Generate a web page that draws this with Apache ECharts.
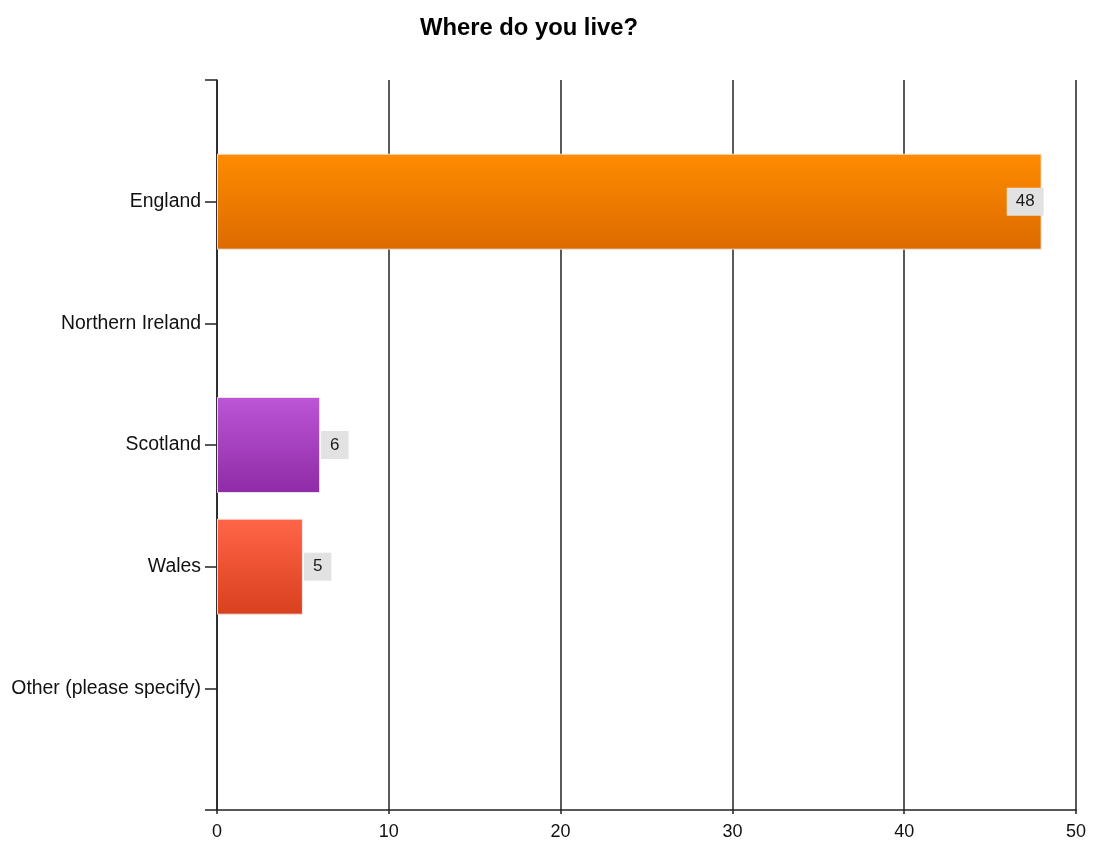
<!DOCTYPE html>
<html>
<head>
<meta charset="utf-8">
<script src="https://cdn.jsdelivr.net/npm/echarts@6/dist/echarts.min.js"></script>
<style>
  html, body { margin: 0; padding: 0; background: #ffffff; }
  #chart { width: 1093px; height: 843px; }
</style>
</head>
<body>
<div id="chart"></div>
<script>
// Survey answers: where respondents live
const titleText = 'Where do you live?';
const categories = ['England', 'Northern Ireland', 'Scotland', 'Wales', 'Other (please specify)'];
const counts = [48, 0, 6, 5, 0];
const xTicks = [0, 10, 20, 30, 40, 50];

// Gradient per answer (top colour, bottom colour)
const barColors = {
  'England': ['#ff8c00', '#dc6a00'],
  'Scotland': ['#bc55d6', '#8f2ba6'],
  'Wales': ['#ff6547', '#d9401e']
};

// Empty slots at both ends so each answer sits on a tick line
const yCategories = [''].concat(categories, ['']);

const FONT = '"Liberation Sans", Arial, sans-serif';

const barData = categories
  .map((c, i) => ({ name: c, v: counts[i] }))
  .filter(d => d.v > 0)
  .map(d => ({
    value: [d.v, d.name],
    itemStyle: {
      color: new echarts.graphic.LinearGradient(0, 0, 0, 1, [
        { offset: 0, color: barColors[d.name][0] },
        { offset: 1, color: barColors[d.name][1] }
      ])
    },
    label: { position: d.v > 40 ? 'insideRight' : 'right', offset: d.v > 40 ? [3, 0] : [0, 0] }
  }));

const chart = echarts.init(document.getElementById('chart'), null, { renderer: 'canvas' });
chart.setOption({
  animation: false,
  backgroundColor: '#ffffff',
  title: {
    text: titleText,
    left: 524,
    textAlign: 'center',
    top: 11,
    textStyle: { fontFamily: FONT, fontSize: 23.8, fontWeight: 'bold', color: '#000000' }
  },
  grid: { left: 217, right: 17, top: 80, bottom: 33, containLabel: false },
  xAxis: {
    type: 'value',
    min: xTicks[0],
    max: xTicks[xTicks.length - 1],
    interval: xTicks[1] - xTicks[0],
    axisLine: { show: true, lineStyle: { color: '#222222', width: 1.5 } },
    axisTick: { show: true, length: 4, lineStyle: { color: '#222222', width: 1.5 } },
    splitLine: { show: true, lineStyle: { color: '#222222', width: 1.5 } },
    axisLabel: { fontFamily: FONT, fontSize: 18, color: '#111111', margin: 13 }
  },
  yAxis: {
    type: 'category',
    data: yCategories,
    inverse: true,
    boundaryGap: false,
    axisLine: { show: true, lineStyle: { color: '#222222', width: 1.5 } },
    axisTick: { show: true, inside: false, length: 12, interval: 0, lineStyle: { color: '#222222', width: 1.5 } },
    splitLine: { show: false },
    axisLabel: { interval: 0, fontFamily: FONT, fontSize: 19.4, color: '#111111', margin: 16 }
  },
  series: [{
    type: 'bar',
    barWidth: 96,
    data: barData,
    itemStyle: { borderColor: 'rgba(235,235,235,0.9)', borderWidth: 1 },
    label: {
      show: true,
      formatter: p => String(p.value[0]),
      fontFamily: FONT,
      fontSize: 17,
      color: '#1a1a1a',
      backgroundColor: '#e2e2e2',
      padding: [6, 9, 5, 9],
      distance: 1
    }
  }]
});
</script>
</body>
</html>
